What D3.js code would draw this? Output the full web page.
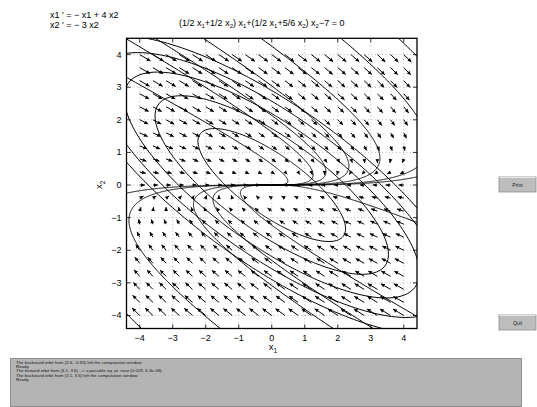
<!DOCTYPE html>
<html><head><meta charset="utf-8">
<script src="https://cdn.jsdelivr.net/npm/d3@7"></script>
<style>body{margin:0;background:#fff}svg text{font-family:"Liberation Sans",Arial,Helvetica,sans-serif}</style>
</head><body><svg id="c" width="537" height="407"></svg>
<script>
// system x' = A x  (x1' = -x1 + 4 x2 ; x2' = -3 x2)
const systemRows = [[-1, 4], [0, -3]];
// level curve quadratic form (1/2 x1+1/2 x2) x1+(1/2 x1+5/6 x2) x2 = c
const levelMatrix = [[0.5, 0.5], [0.5, 5 / 6]];
const levelValues = [1, 2.5, 4, 5.5, 7];
const xTicks = [-4, -3, -2, -1, 0, 1, 2, 3, 4];
const yTicks = [-4, -3, -2, -1, 0, 1, 2, 3, 4];
const fieldX = [-4, -3.6, -3.2, -2.8, -2.4, -2, -1.6, -1.2, -0.8, -0.4, 0, 0.4, 0.8, 1.2, 1.6, 2, 2.4, 2.8, 3.2, 3.6, 4];
const fieldY = [-4, -3.6, -3.2, -2.8, -2.4, -2, -1.6, -1.2, -0.8, -0.4, 0, 0.4, 0.8, 1.2, 1.6, 2, 2.4, 2.8, 3.2, 3.6, 4];
// initial points of the computed orbits
const orbitStarts = [
  [3.1, 3.6], [-0.26, 4.45], [-2.0, 4.45], [-3.45, 4.45], [-4.3, 4.42], [-4.4, 3.3], [4.4, 0.25],
  [-1.56, -4.4], [1.86, -4.4], [3.07, -4.4], [4.4, -4.03], [3.6, -0.85], [-4.4, -0.25]
];
const equationLines = ["x1 ' = \u2212 x1 + 4 x2", "x2 ' = \u2212 3 x2"];
const messages = [
  "The backward orbit from (3.6, -0.85) left the computation window.",
  "Ready.",
  "The forward orbit from (3.1, 3.6) --> a possible eq. pt. near (0.029, 6.3e-08).",
  "The backward orbit from (3.1, 3.6) left the computation window.",
  "Ready."
];

const svg = d3.select("#c");
const x = d3.scaleLinear().domain([-4.4, 4.4]).range([126.5, 417]);
const y = d3.scaleLinear().domain([-4.4, 4.5]).range([328.5, 38.3]);
const X0 = x.range()[0], X1 = x.range()[1], Y0 = y.range()[1], Y1 = y.range()[0];

svg.append("defs").append("clipPath").attr("id", "clip")
  .append("rect").attr("x", X0).attr("y", Y0).attr("width", X1 - X0).attr("height", Y1 - Y0);

// grid
const grid = svg.append("g").attr("stroke", "#9a9a9a").attr("stroke-width", 0.7).attr("stroke-dasharray", "1,2.5");
xTicks.forEach(t => grid.append("line").attr("x1", x(t)).attr("x2", x(t)).attr("y1", Y0).attr("y2", Y1));
yTicks.forEach(t => grid.append("line").attr("y1", y(t)).attr("y2", y(t)).attr("x1", X0).attr("x2", X1));

const plot = svg.append("g").attr("clip-path", "url(#clip)");
const f = p => [systemRows[0][0] * p[0] + systemRows[0][1] * p[1], systemRows[1][0] * p[0] + systemRows[1][1] * p[1]];

// direction field
let mMax = 0;
fieldX.forEach(a => fieldY.forEach(b => { const v = f([a, b]); mMax = Math.max(mMax, Math.hypot(v[0], v[1])); }));
const arrows = plot.append("g");
fieldX.forEach(a => fieldY.forEach(b => {
  const v = f([a, b]);
  const m = Math.hypot(v[0], v[1]);
  if (m === 0) return;
  const px = v[0] * (x(1) - x(0)), py = v[1] * (y(1) - y(0));
  const pm = Math.hypot(px, py), ux = px / pm, uy = py / pm;
  const len = 12.5 * Math.sqrt(m / mMax);
  const sx = x(a), sy = y(b), ex = sx + ux * len, ey = sy + uy * len;
  const h = 3.8, w = 1.9;
  arrows.append("line").attr("x1", sx).attr("y1", sy).attr("x2", ex).attr("y2", ey)
    .attr("stroke", "#000").attr("stroke-width", 1);
  const bx = ex - ux * h, by = ey - uy * h;
  arrows.append("path").attr("d", `M${ex},${ey}L${bx - uy * w},${by + ux * w}L${bx + uy * w},${by - ux * w}Z`).attr("fill", "#000");
}));

// level curves
const line = d3.line().x(d => x(d[0])).y(d => y(d[1]));
levelValues.forEach(c => {
  const pts = d3.range(0, 361, 1).map(deg => {
    const t = deg * Math.PI / 180, u = [Math.cos(t), Math.sin(t)];
    const q = levelMatrix[0][0] * u[0] * u[0] + 2 * levelMatrix[0][1] * u[0] * u[1] + levelMatrix[1][1] * u[1] * u[1];
    const r = Math.sqrt(c / q);
    return [r * u[0], r * u[1]];
  });
  plot.append("path").attr("d", line(pts)).attr("fill", "none").attr("stroke", "#000").attr("stroke-width", 1);
});

// orbits (RK4 forward and backward)
function integrate(p0, dir) {
  const dt = 0.004 * dir, out = [p0];
  let p = p0.slice();
  for (let i = 0; i < 20000; i++) {
    const k1 = f(p), k2 = f([p[0] + dt / 2 * k1[0], p[1] + dt / 2 * k1[1]]);
    const k3 = f([p[0] + dt / 2 * k2[0], p[1] + dt / 2 * k2[1]]), k4 = f([p[0] + dt * k3[0], p[1] + dt * k3[1]]);
    p = [p[0] + dt / 6 * (k1[0] + 2 * k2[0] + 2 * k3[0] + k4[0]), p[1] + dt / 6 * (k1[1] + 2 * k2[1] + 2 * k3[1] + k4[1])];
    out.push(p);
    if (Math.abs(p[0]) > 7 || Math.abs(p[1]) > 7 || Math.hypot(p[0], p[1]) < 0.005) break;
  }
  return out;
}
orbitStarts.forEach(p0 => {
  const pts = integrate(p0, -1).reverse().concat(integrate(p0, 1));
  plot.append("path").attr("d", line(pts)).attr("fill", "none").attr("stroke", "#000").attr("stroke-width", 1);
});

// frame and ticks
svg.append("rect").attr("x", X0).attr("y", Y0).attr("width", X1 - X0).attr("height", Y1 - Y0)
  .attr("fill", "none").attr("stroke", "#000").attr("stroke-width", 1.3);
const tk = svg.append("g").attr("stroke", "#000").attr("stroke-width", 0.8);
xTicks.forEach(t => { tk.append("line").attr("x1", x(t)).attr("x2", x(t)).attr("y1", Y1).attr("y2", Y1 - 4);
  tk.append("line").attr("x1", x(t)).attr("x2", x(t)).attr("y1", Y0).attr("y2", Y0 + 4); });
yTicks.forEach(t => { tk.append("line").attr("y1", y(t)).attr("y2", y(t)).attr("x1", X0).attr("x2", X0 + 4);
  tk.append("line").attr("y1", y(t)).attr("y2", y(t)).attr("x1", X1).attr("x2", X1 - 4); });
const fmt = t => t < 0 ? "\u2212" + (-t) : String(t);
xTicks.forEach(t => svg.append("text").attr("x", x(t)).attr("y", Y1 + 12).attr("text-anchor", "middle").attr("font-size", 9).text(fmt(t)));
yTicks.forEach(t => svg.append("text").attr("x", X0 - 5).attr("y", y(t) + 3).attr("text-anchor", "end").attr("font-size", 9).text(fmt(t)));

// axis labels
const xl = svg.append("text").attr("x", x(0) - 3).attr("y", 350).attr("font-size", 9.5);
xl.append("tspan").text("x"); xl.append("tspan").attr("dy", 2.5).attr("font-size", 6.5).text("1");
const yl = svg.append("text").attr("transform", `translate(102,${y(0) + 4}) rotate(-90)`).attr("font-size", 9.5);
yl.append("tspan").text("x"); yl.append("tspan").attr("dy", 2.5).attr("font-size", 6.5).text("2");

// equations
equationLines.forEach((s, i) => svg.append("text").attr("x", 50).attr("y", 17.5 + i * 10).attr("font-size", 9).text(s));

// title with subscripts
const title = svg.append("text").attr("x", 179).attr("y", 25.5).attr("font-size", 9);
const parts = [["(1/2 x", "1"], ["+1/2 x", "2"], [") x", "1"], ["+(1/2 x", "1"], ["+5/6 x", "2"], [") x", "2"], ["\u22127 = 0", null]];
let shifted = false;
parts.forEach(([s, sub]) => {
  const t = title.append("tspan").text(s);
  if (shifted) { t.attr("dy", -2.5); shifted = false; }
  if (sub) { title.append("tspan").attr("dy", 2.5).attr("font-size", 6).text(sub); shifted = true; }
});

// buttons
function button(yy, label) {
  const g = svg.append("g");
  g.append("rect").attr("x", 499).attr("y", yy).attr("width", 37).attr("height", 15).attr("fill", "#bdbdbd").attr("stroke", "#8c8c8c").attr("stroke-width", 0.8);
  g.append("line").attr("x1", 499.5).attr("x2", 535.5).attr("y1", yy + 0.5).attr("y2", yy + 0.5).attr("stroke", "#e6e6e6");
  g.append("text").attr("x", 517.5).attr("y", yy + 9.5).attr("text-anchor", "middle").attr("font-size", 5).attr("fill", "#222").text(label);
}
button(177, "Print");
button(315, "Quit");

// message box
svg.append("rect").attr("x", 10.5).attr("y", 358.5).attr("width", 511).attr("height", 48).attr("fill", "#b4b4b4").attr("stroke", "#8e8e8e").attr("stroke-width", 1);
messages.forEach((m, i) => svg.append("text").attr("x", 16).attr("y", 363.6 + i * 4.4).attr("font-size", 4.4).attr("fill", "#1a1a1a").text(m));
</script></body></html>
